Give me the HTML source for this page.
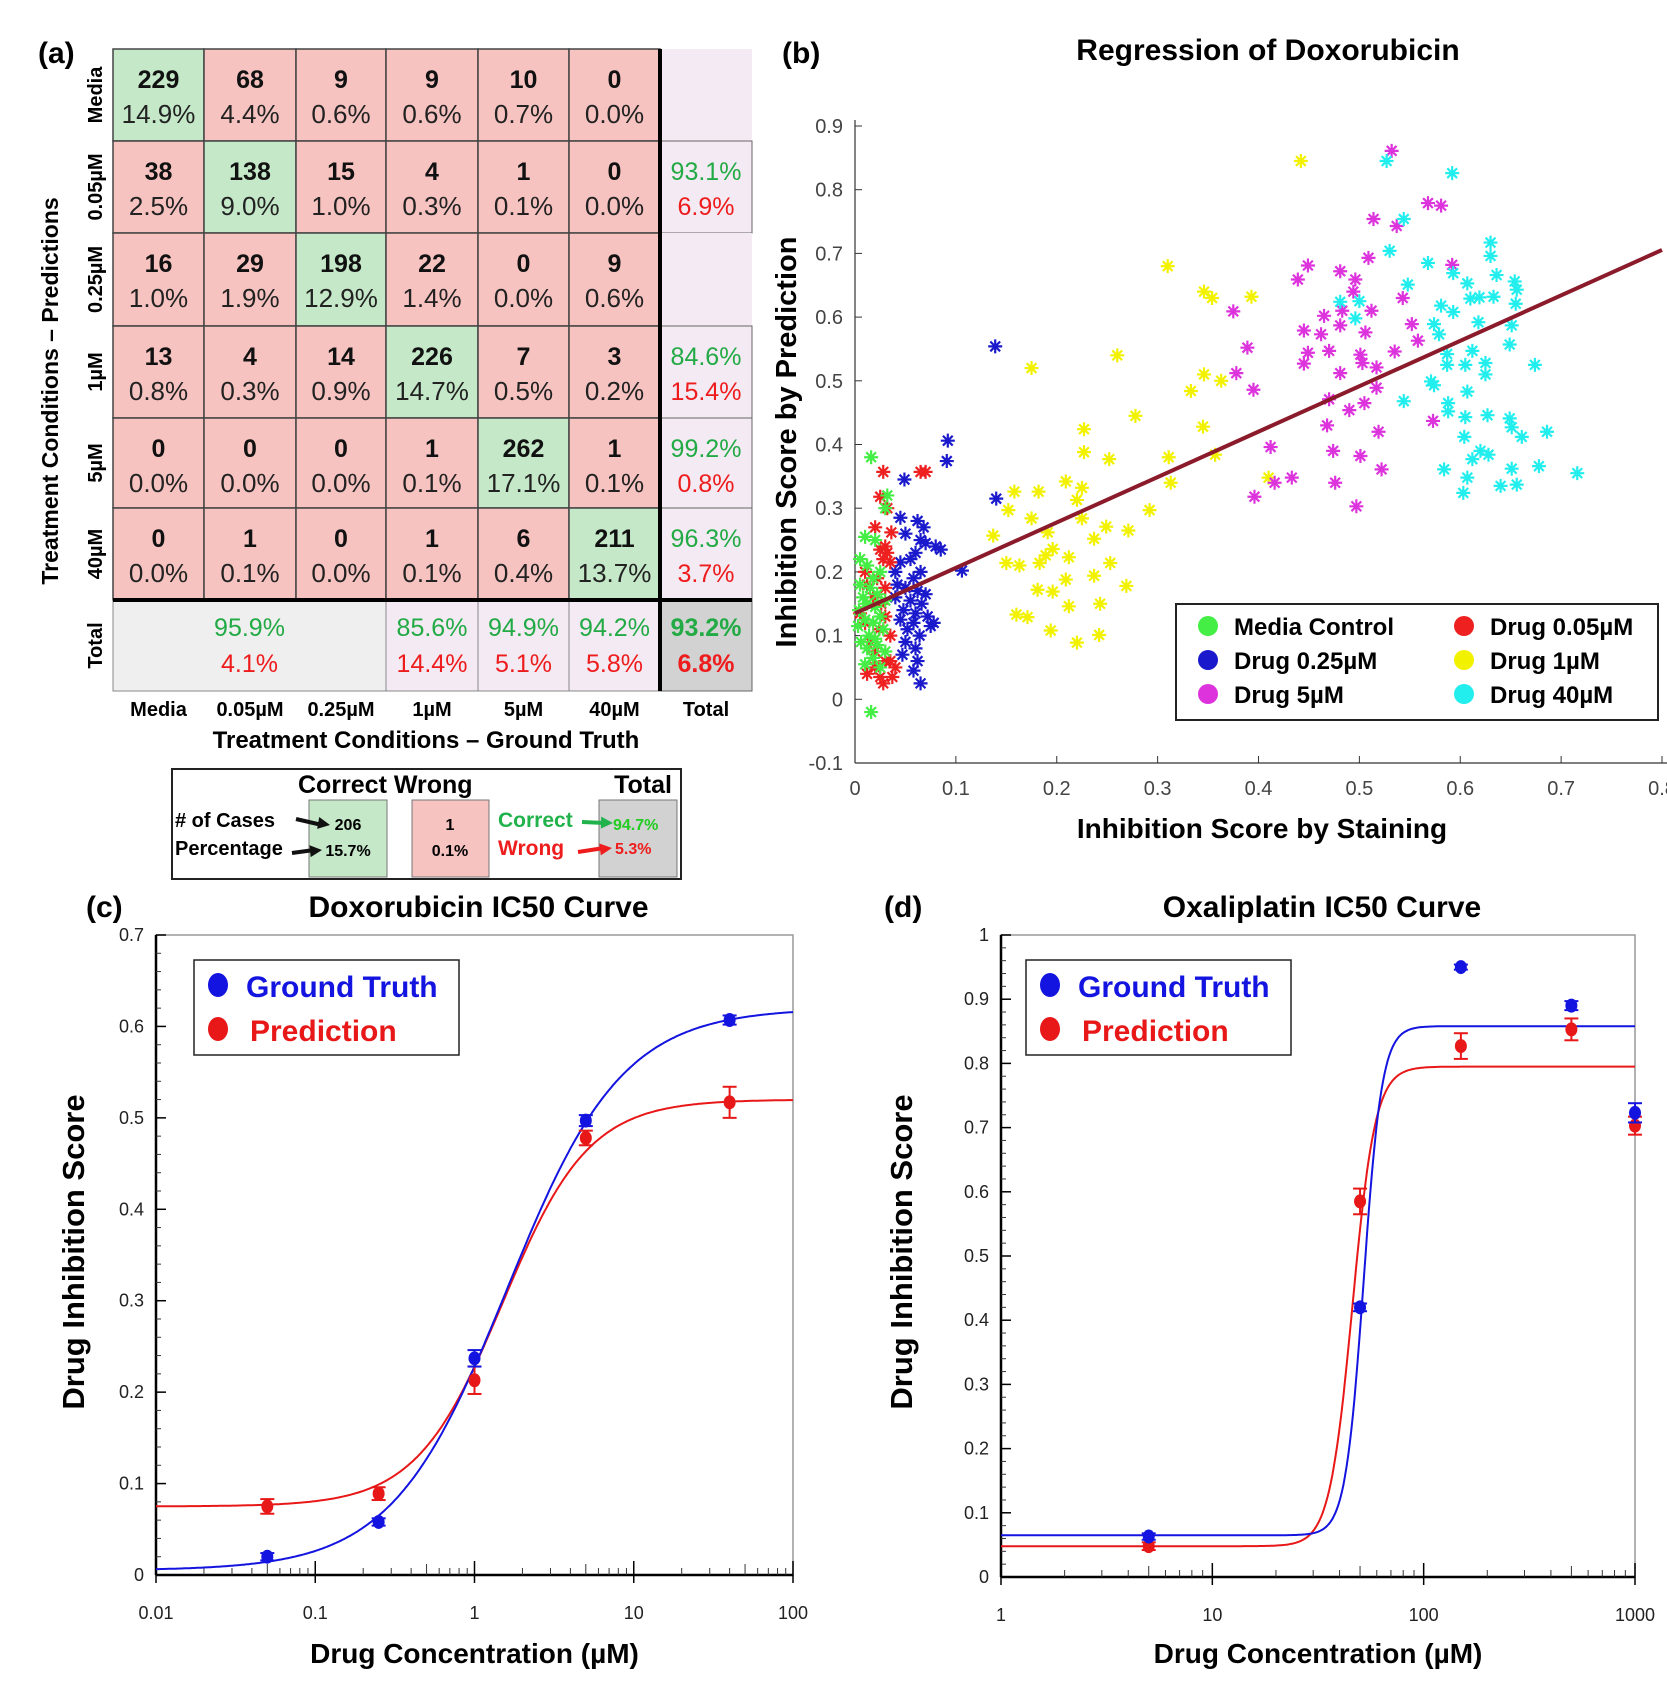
<!DOCTYPE html>
<html><head><meta charset="utf-8"><style>
html,body{margin:0;padding:0;background:#fff;}
svg{display:block;font-family:"Liberation Sans",Arial,sans-serif;}
</style></head><body>
<svg id="fig" width="1667" height="1690" viewBox="0 0 1667 1690" xmlns="http://www.w3.org/2000/svg">
<g id="pa"></g>
<g id="pb"></g>
<g id="pc"></g>
<g id="pd"></g>
</svg>
<script>
// ===== Panel (a) data =====
const cmLabels = ["Media","0.05µM","0.25µM","1µM","5µM","40µM"];
const cmCounts = [[229,68,9,9,10,0],[38,138,15,4,1,0],[16,29,198,22,0,9],[13,4,14,226,7,3],[0,0,0,1,262,1],[0,1,0,1,6,211]];
const cmPcts = [["14.9%","4.4%","0.6%","0.6%","0.7%","0.0%"],["2.5%","9.0%","1.0%","0.3%","0.1%","0.0%"],["1.0%","1.9%","12.9%","1.4%","0.0%","0.6%"],["0.8%","0.3%","0.9%","14.7%","0.5%","0.2%"],["0.0%","0.0%","0.0%","0.1%","17.1%","0.1%"],["0.0%","0.1%","0.0%","0.1%","0.4%","13.7%"]];
const rowTotals = [null,["93.1%","6.9%"],null,["84.6%","15.4%"],["99.2%","0.8%"],["96.3%","3.7%"]];
const colTotals = [["95.9%","4.1%"],null,null,["85.6%","14.4%"],["94.9%","5.1%"],["94.2%","5.8%"]];
const grandTotal = ["93.2%","6.8%"];

// ===== Panel (b) data =====
const scXTicks = [0,0.1,0.2,0.3,0.4,0.5,0.6,0.7,0.8];
const scYTicks = [-0.1,0,0.1,0.2,0.3,0.4,0.5,0.6,0.7,0.8,0.9];
const regIntercept = 0.135;
const regSlope = 0.713;
const grpNames = ["Media Control","Drug 0.05µM","Drug 0.25µM","Drug 1µM","Drug 5µM","Drug 40µM"];
const grpColors = ["#44ee44","#ee2020","#1a1acc","#f2f200","#dd33dd","#22eeee"];
const mediaX = [0.016,0.03,0.032,0.01,0.02,0.005,0.012,0.025,0.018,0.005,0.015,0.022,0.008,0.03,0.012,0.02,0.004,0.025,0.01,0.018,0.003,0.028,0.014,0.02,0.006,0.022,0.012,0.03,0.018,0.01,0.025,0.016];
const mediaY = [0.38,0.3,0.32,0.255,0.25,0.22,0.21,0.2,0.19,0.18,0.175,0.165,0.16,0.155,0.15,0.145,0.14,0.13,0.125,0.12,0.115,0.11,0.1,0.095,0.09,0.085,0.08,0.075,0.065,0.055,0.05,-0.02];
const d005X = [0.028,0.065,0.07,0.025,0.032,0.02,0.036,0.03,0.025,0.032,0.028,0.035,0.01,0.022,0.012,0.03,0.018,0.026,0.005,0.03,0.01,0.024,0.035,0.015,0.02,0.035,0.012,0.025,0.037,0.028,0.02,0.03,0.04];
const d005Y = [0.357,0.357,0.357,0.318,0.3,0.27,0.262,0.24,0.235,0.23,0.22,0.215,0.2,0.19,0.18,0.175,0.16,0.15,0.135,0.13,0.12,0.11,0.1,0.09,0.075,0.06,0.04,0.035,0.035,0.025,0.05,0.06,0.05];
const d025X = [0.049,0.045,0.062,0.068,0.05,0.065,0.07,0.08,0.085,0.06,0.055,0.045,0.065,0.058,0.042,0.05,0.062,0.07,0.04,0.055,0.066,0.048,0.06,0.072,0.045,0.058,0.075,0.052,0.064,0.05,0.06,0.047,0.062,0.058,0.065,0.106,0.092,0.091,0.139,0.14,0.078,0.04];
const d025Y = [0.345,0.285,0.28,0.27,0.26,0.25,0.245,0.24,0.235,0.23,0.22,0.215,0.2,0.19,0.18,0.175,0.17,0.165,0.16,0.155,0.15,0.14,0.135,0.13,0.125,0.12,0.115,0.11,0.1,0.09,0.08,0.07,0.06,0.045,0.025,0.202,0.406,0.374,0.554,0.315,0.12,0.2];
const d1X = [0.442,0.31,0.346,0.354,0.393,0.26,0.175,0.346,0.363,0.333,0.278,0.227,0.345,0.227,0.252,0.311,0.357,0.41,0.313,0.209,0.158,0.182,0.225,0.22,0.152,0.292,0.175,0.225,0.249,0.271,0.137,0.191,0.237,0.196,0.189,0.212,0.15,0.163,0.183,0.253,0.237,0.209,0.269,0.181,0.196,0.212,0.243,0.16,0.171,0.194,0.242,0.22];
const d1Y = [0.845,0.68,0.64,0.63,0.632,0.54,0.52,0.51,0.5,0.484,0.445,0.424,0.428,0.388,0.377,0.38,0.384,0.348,0.34,0.342,0.326,0.326,0.332,0.313,0.297,0.297,0.284,0.284,0.271,0.265,0.257,0.262,0.252,0.236,0.226,0.223,0.214,0.21,0.214,0.214,0.194,0.188,0.178,0.172,0.169,0.146,0.15,0.133,0.129,0.108,0.101,0.089];
const d5X = [0.532,0.568,0.581,0.514,0.537,0.509,0.449,0.439,0.481,0.496,0.494,0.592,0.543,0.375,0.465,0.483,0.512,0.481,0.445,0.462,0.506,0.552,0.558,0.389,0.449,0.47,0.501,0.535,0.445,0.503,0.517,0.481,0.378,0.395,0.517,0.47,0.505,0.49,0.468,0.519,0.573,0.412,0.474,0.501,0.522,0.433,0.416,0.476,0.396,0.497];
const d5Y = [0.861,0.779,0.775,0.754,0.743,0.693,0.681,0.659,0.672,0.659,0.64,0.682,0.63,0.609,0.602,0.61,0.61,0.587,0.579,0.573,0.576,0.589,0.563,0.552,0.544,0.547,0.541,0.546,0.527,0.528,0.521,0.512,0.512,0.486,0.489,0.471,0.465,0.454,0.43,0.42,0.437,0.396,0.39,0.382,0.361,0.348,0.34,0.34,0.318,0.303];
const d40X = [0.527,0.592,0.544,0.53,0.63,0.63,0.568,0.593,0.636,0.548,0.607,0.654,0.656,0.481,0.5,0.61,0.619,0.633,0.655,0.581,0.593,0.496,0.574,0.618,0.651,0.579,0.649,0.587,0.612,0.587,0.605,0.625,0.674,0.625,0.571,0.574,0.607,0.544,0.588,0.588,0.605,0.627,0.649,0.651,0.661,0.686,0.604,0.62,0.612,0.628,0.584,0.651,0.678,0.607,0.716,0.603,0.64,0.656];
const d40Y = [0.845,0.826,0.754,0.704,0.717,0.696,0.685,0.669,0.666,0.651,0.653,0.656,0.643,0.624,0.625,0.629,0.631,0.632,0.621,0.618,0.608,0.598,0.589,0.592,0.587,0.573,0.557,0.542,0.547,0.525,0.525,0.528,0.525,0.51,0.499,0.493,0.483,0.468,0.465,0.452,0.443,0.446,0.441,0.427,0.412,0.42,0.412,0.39,0.377,0.384,0.361,0.362,0.366,0.348,0.355,0.324,0.335,0.337];

// ===== Panel (c) data =====
const cConc = [0.05,0.25,1,5,40];
const cGT = [0.02,0.058,0.237,0.497,0.607];
const cGTerr = [0.004,0.004,0.009,0.006,0.005];
const cPred = [0.075,0.089,0.213,0.478,0.517];
const cPredErr = [0.008,0.007,0.015,0.008,0.017];
const cGTfit = [0.005,0.62,1.6,1.2];   // bottom, top, EC50, hill
const cPredfit = [0.075,0.52,1.5,1.6];
const cYTicks = [0,0.1,0.2,0.3,0.4,0.5,0.6,0.7];
const cXTicks = [0.01,0.1,1,10,100];

// ===== Panel (d) data =====
const dConc = [5,50,150,500,1000];
const dGT = [0.063,0.42,0.95,0.89,0.723];
const dGTerr = [0.005,0.006,0.004,0.007,0.015];
const dPred = [0.048,0.585,0.827,0.853,0.703];
const dPredErr = [0.006,0.02,0.02,0.017,0.014];
const dGTfit = [0.065,0.858,52,10];
const dPredfit = [0.048,0.795,46,8];
const dYTicks = [0,0.1,0.2,0.3,0.4,0.5,0.6,0.7,0.8,0.9,1];
const dXTicks = [1,10,100,1000];

const NS = "http://www.w3.org/2000/svg";
function mk(parent, tag, attrs, text){
  const e = document.createElementNS(NS, tag);
  for (const k in attrs) e.setAttribute(k, attrs[k]);
  if (text !== undefined) e.textContent = text;
  parent.appendChild(e);
  return e;
}

// ================= Panel (a) =================
(function(){
  const g = document.getElementById('pa');
  const colX = [113,204,296,386,478,569,660,752];
  const rowY = [49,141,233,326,418,508,600,691];
  const GREEN="#c4e8c8", PINK="#f6c3c0", LAV="#f3eaf3", LGRAY="#efefef", DGRAY="#d2d2d2";
  let t = mk(g,'text',{x:38,y:63,'font-size':30,'font-weight':'bold'},'(a)');
   
  for (let r=0;r<6;r++){
    for (let c=0;c<6;c++){
      const cell = mk(g,'g',{});
      
      
      mk(cell,'rect',{x:colX[c],y:rowY[r],width:colX[c+1]-colX[c],height:rowY[r+1]-rowY[r],fill:r===c?GREEN:PINK,stroke:'#444','stroke-width':1.5});
      const cx=(colX[c]+colX[c+1])/2;
      mk(cell,'text',{x:cx,y:rowY[r]+39,'text-anchor':'middle','font-size':25,'font-weight':'bold',fill:'#111'},String(cmCounts[r][c]));
      mk(cell,'text',{x:cx,y:rowY[r]+74,'text-anchor':'middle','font-size':26,fill:'#222'},cmPcts[r][c]);
    }
    const rc = mk(g,'g',{});
    
    
    mk(rc,'rect',{x:colX[6],y:rowY[r],width:colX[7]-colX[6],height:rowY[r+1]-rowY[r],fill:LAV,stroke:rowTotals[r]?'#666':'none','stroke-width':1});
    if (rowTotals[r]){
      const cx=(colX[6]+colX[7])/2;
      mk(rc,'text',{x:cx,y:rowY[r]+39,'text-anchor':'middle','font-size':25,fill:'#22aa44'},rowTotals[r][0]);
      mk(rc,'text',{x:cx,y:rowY[r]+74,'text-anchor':'middle','font-size':25,fill:'#ee1c1c'},rowTotals[r][1]);
    }
  }
  const yb=rowY[6], yb2=rowY[7];
  mk(g,'rect',{x:colX[0],y:yb,width:colX[3]-colX[0],height:yb2-yb,fill:LGRAY,stroke:'#888'});
  for (let c=3;c<6;c++) mk(g,'rect',{x:colX[c],y:yb,width:colX[c+1]-colX[c],height:yb2-yb,fill:LAV,stroke:'#888'});
  for (let c=0;c<6;c++){
    if (!colTotals[c]) continue;
    const cx = c===0 ? (colX[0]+colX[3])/2 : (colX[c]+colX[c+1])/2;
    const ct = mk(g,'g',{});
    
    
    mk(ct,'text',{x:cx,y:yb+36,'text-anchor':'middle','font-size':25,fill:'#22aa44'},colTotals[c][0]);
    mk(ct,'text',{x:cx,y:yb+72,'text-anchor':'middle','font-size':25,fill:'#ee1c1c'},colTotals[c][1]);
  }
  const gt = mk(g,'g',{});
   
  mk(gt,'rect',{x:colX[6],y:yb,width:colX[7]-colX[6],height:yb2-yb,fill:DGRAY,stroke:'#666'});
  mk(gt,'text',{x:(colX[6]+colX[7])/2,y:yb+36,'text-anchor':'middle','font-size':25,'font-weight':'bold',fill:'#22aa44'},grandTotal[0]);
  mk(gt,'text',{x:(colX[6]+colX[7])/2,y:yb+72,'text-anchor':'middle','font-size':25,'font-weight':'bold',fill:'#ee1c1c'},grandTotal[1]);
  mk(g,'line',{x1:colX[6],y1:rowY[0],x2:colX[6],y2:rowY[7],stroke:'#000','stroke-width':4});
  mk(g,'line',{x1:colX[0],y1:rowY[6],x2:colX[7],y2:rowY[6],stroke:'#000','stroke-width':4});
  for (let i=0;i<6;i++){
    const cy=(rowY[i]+rowY[i+1])/2;
    const rl = mk(g,'text',{x:0,y:0,transform:`translate(102,${cy}) rotate(-90)`,'text-anchor':'middle','font-size':20,'font-weight':'bold'},cmLabels[i]);
     
    const cl = mk(g,'text',{x:(colX[i]+colX[i+1])/2,y:716,'text-anchor':'middle','font-size':20,'font-weight':'bold'},cmLabels[i]);
     
  }
  mk(g,'text',{x:0,y:0,transform:`translate(102,${(rowY[6]+rowY[7])/2}) rotate(-90)`,'text-anchor':'middle','font-size':20,'font-weight':'bold'},'Total');
  mk(g,'text',{x:(colX[6]+colX[7])/2,y:716,'text-anchor':'middle','font-size':20,'font-weight':'bold'},'Total');
  const yt = mk(g,'text',{x:0,y:0,transform:'translate(58,391) rotate(-90)','text-anchor':'middle','font-size':23,'font-weight':'bold'},'Treatment Conditions – Predictions');
   
  const xt = mk(g,'text',{x:426,y:748,'text-anchor':'middle','font-size':24,'font-weight':'bold'},'Treatment Conditions – Ground Truth');
   
  const k = mk(g,'g',{});
   
  mk(k,'rect',{x:172,y:769,width:509,height:110,fill:'#fff',stroke:'#222','stroke-width':2});
  mk(k,'rect',{x:309,y:800,width:78,height:77,fill:GREEN,stroke:'#777'});
  mk(k,'rect',{x:412,y:800,width:77,height:77,fill:PINK,stroke:'#777'});
  mk(k,'rect',{x:599,y:800,width:78,height:77,fill:DGRAY,stroke:'#777'});
  mk(k,'text',{x:298,y:793,'font-size':25,'font-weight':'bold'},'Correct Wrong');
  mk(k,'text',{x:672,y:793,'text-anchor':'end','font-size':25,'font-weight':'bold'},'Total');
  mk(k,'text',{x:175,y:827,'font-size':20,'font-weight':'bold'},'# of Cases');
  mk(k,'text',{x:175,y:855,'font-size':20,'font-weight':'bold'},'Percentage');
  mk(k,'text',{x:348,y:830,'text-anchor':'middle','font-size':16,'font-weight':'bold'},'206');
  mk(k,'text',{x:348,y:856,'text-anchor':'middle','font-size':16,'font-weight':'bold'},'15.7%');
  mk(k,'text',{x:450,y:830,'text-anchor':'middle','font-size':16,'font-weight':'bold'},'1');
  mk(k,'text',{x:450,y:856,'text-anchor':'middle','font-size':16,'font-weight':'bold'},'0.1%');
  mk(k,'text',{x:498,y:827,'font-size':21,'font-weight':'bold',fill:'#22b24c'},'Correct');
  mk(k,'text',{x:498,y:855,'font-size':21,'font-weight':'bold',fill:'#ee1c1c'},'Wrong');
  mk(k,'text',{x:613,y:830,'font-size':16,'font-weight':'bold',fill:'#22cc22'},'94.7%');
  mk(k,'text',{x:615,y:854,'font-size':16,'font-weight':'bold',fill:'#ee1c1c'},'5.3%');
  function arrow(x1,y1,x2,y2,col){
    mk(k,'line',{x1:x1,y1:y1,x2:x2-8,y2:y2,stroke:col,'stroke-width':4});
    const a=Math.atan2(y2-y1,x2-x1);
    const p=[[x2,y2],[x2-12*Math.cos(a)+6*Math.sin(a),y2-12*Math.sin(a)-6*Math.cos(a)],[x2-12*Math.cos(a)-6*Math.sin(a),y2-12*Math.sin(a)+6*Math.cos(a)]];
    mk(k,'polygon',{points:p.map(q=>q.join(',')).join(' '),fill:col});
  }
  arrow(296,819,330,825,'#111'); arrow(292,853,322,850,'#111');
  arrow(582,822,613,823,'#22b24c'); arrow(578,852,612,848,'#ee1c1c');
})();

// ================= Panel (b) =================
(function(){
  const g = document.getElementById('pb');
  const X0=855, XS=1008.75, Y0=699.3, YS=637;
  const sx = v => X0 + v*XS, sy = v => Y0 - v*YS;
  let t = mk(g,'text',{x:782,y:63,'font-size':30,'font-weight':'bold'},'(b)');
   
  t = mk(g,'text',{x:1268,y:60,'text-anchor':'middle','font-size':30,'font-weight':'bold'},'Regression of Doxorubicin');
   
  const ax = mk(g,'g',{});
   
  mk(ax,'line',{x1:X0,y1:sy(0.9)-6,x2:X0,y2:sy(-0.1),stroke:'#333','stroke-width':1.2});
  mk(ax,'line',{x1:X0,y1:sy(-0.1),x2:1667,y2:sy(-0.1),stroke:'#333','stroke-width':1.2});
  scXTicks.forEach(v=>{
    mk(ax,'line',{x1:sx(v),y1:sy(-0.1),x2:sx(v),y2:sy(-0.1)-7,stroke:'#333'});
    const l = mk(ax,'text',{x:sx(v),y:795,'text-anchor':'middle','font-size':20,fill:'#444'},String(v));
     
  });
  scYTicks.forEach(v=>{
    mk(ax,'line',{x1:X0,y1:sy(v),x2:X0+7,y2:sy(v),stroke:'#333'});
    const l = mk(ax,'text',{x:843,y:sy(v)+7,'text-anchor':'end','font-size':20,fill:'#444'},String(v));
     
  });
  t = mk(g,'text',{x:1262,y:838,'text-anchor':'middle','font-size':28,'font-weight':'bold'},'Inhibition Score by Staining');
   
  t = mk(g,'text',{x:0,y:0,transform:'translate(796,442) rotate(-90)','text-anchor':'middle','font-size':29,'font-weight':'bold'},'Inhibition Score by Prediction');
   
  const groups = [[mediaX,mediaY],[d005X,d005Y],[d025X,d025Y],[d1X,d1Y],[d5X,d5Y],[d40X,d40Y]];
  const order=[3,4,5,2,1,0];
  order.forEach(gi=>{
    const sg = mk(g,'g',{stroke:grpColors[gi],'stroke-width':2.2});
    
    
    const xs=groups[gi][0], ys=groups[gi][1];
    for (let i=0;i<xs.length;i++){
      const px=sx(xs[i]), py=sy(ys[i]), r=7;
      const m = mk(sg,'path',{d:`M${px-r},${py}H${px+r}M${px},${py-r}V${py+r}M${px-r*0.7},${py-r*0.7}L${px+r*0.7},${py+r*0.7}M${px-r*0.7},${py+r*0.7}L${px+r*0.7},${py-r*0.7}`});
       
    }
  });
  const rl = mk(g,'line',{x1:sx(0),y1:sy(regIntercept),x2:sx(0.8),y2:sy(regIntercept+regSlope*0.8),stroke:'#8b1a2a','stroke-width':4});
   
  const lg = mk(g,'g',{});
   
  mk(lg,'rect',{x:1176,y:604,width:482,height:116,fill:'#fff',stroke:'#222','stroke-width':2});
  for (let i=0;i<6;i++){
    const col=i%2, row=Math.floor(i/2);
    const lx = col===0?1208:1464, ly = 626+row*34;
    const e = mk(lg,'g',{});
     
    mk(e,'circle',{cx:lx,cy:ly,r:10,fill:grpColors[i]});
    mk(e,'text',{x:lx+26,y:ly+9,'font-size':24,'font-weight':'bold'},grpNames[i]);
  }
})();

// ================= Panels (c) & (d) =================
function ic50Panel(gid, cfg){
  const g = document.getElementById(gid);
  const {L,R,T,B,xmin,xmax,ymax} = cfg;
  const lx = v => L + (Math.log10(v)-Math.log10(xmin))/(Math.log10(xmax)-Math.log10(xmin))*(R-L);
  const ly = v => B - v/ymax*(B-T);
  let t = mk(g,'text',{x:cfg.labX,y:917,'font-size':30,'font-weight':'bold'},cfg.panel);
   
  t = mk(g,'text',{x:(L+R)/2+4,y:917,'text-anchor':'middle','font-size':30,'font-weight':'bold'},cfg.title);
   
  const ax = mk(g,'g',{});
   
  mk(ax,'rect',{x:L,y:T,width:R-L,height:B-T,fill:'none',stroke:'#999','stroke-width':1.5});
  mk(ax,'line',{x1:L,y1:T,x2:L,y2:B,stroke:'#000','stroke-width':2.5});
  mk(ax,'line',{x1:L,y1:B,x2:R,y2:B,stroke:'#000','stroke-width':2.5});
  const step = cfg.yTicks[1]-cfg.yTicks[0];
  for (let v=0; v<=ymax+1e-9; v+=step/5){
    mk(ax,'line',{x1:L,y1:ly(v),x2:L+5,y2:ly(v),stroke:'#333','stroke-width':1});
  }
  cfg.yTicks.forEach(v=>{
    mk(ax,'line',{x1:L,y1:ly(v),x2:L+10,y2:ly(v),stroke:'#000','stroke-width':1.5});
    const l = mk(ax,'text',{x:L-12,y:ly(v)+6,'text-anchor':'end','font-size':18,fill:'#222'},String(v));
     
  });
  for (let d=Math.log10(xmin); d<Math.log10(xmax); d++){
    for (let m=2;m<=9;m++){
      const x = lx(Math.pow(10,d)*m);
      mk(ax,'line',{x1:x,y1:B,x2:x,y2:B-(m===5?11:7),stroke:'#333','stroke-width':1});
    }
  }
  cfg.xTicks.forEach(v=>{
    mk(ax,'line',{x1:lx(v),y1:B,x2:lx(v),y2:B-14,stroke:'#000','stroke-width':1.5});
    mk(ax,'line',{x1:lx(v),y1:B,x2:lx(v),y2:B+8,stroke:'#000','stroke-width':1.5});
    const l = mk(ax,'text',{x:lx(v),y:B+44,'text-anchor':'middle','font-size':18,fill:'#222'},String(v));
     
  });
  t = mk(g,'text',{x:(L+R)/2,y:1663,'text-anchor':'middle','font-size':28,'font-weight':'bold'},'Drug Concentration (µM)');
   
  t = mk(g,'text',{x:0,y:0,transform:`translate(${cfg.ytX},1252) rotate(-90)`,'text-anchor':'middle','font-size':31,'font-weight':'bold'},'Drug Inhibition Score');
   
  function fitCurve(p,col,name){
    const pts=[];
    const a=Math.log10(xmin), b=Math.log10(xmax);
    for (let i=0;i<=400;i++){
      const x=Math.pow(10,a+(b-a)*i/400);
      const y=p[0]+(p[1]-p[0])/(1+Math.pow(p[2]/x,p[3]));
      pts.push(lx(x).toFixed(1)+','+ly(y).toFixed(1));
    }
    const c = mk(g,'polyline',{points:pts.join(' '),fill:'none',stroke:col,'stroke-width':2});
     
  }
  fitCurve(cfg.predFit,'#e81818','prediction-fit-curve');
  fitCurve(cfg.gtFit,'#1414e0','ground-truth-fit-curve');
  function pts(vals,errs,col,name){
    const sg = mk(g,'g',{});
     
    for (let i=0;i<cfg.conc.length;i++){
      const x=lx(cfg.conc[i]), y=ly(vals[i]), e1=ly(vals[i]+errs[i]), e2=ly(vals[i]-errs[i]);
      const pg = mk(sg,'g',{stroke:col,'stroke-width':2});
       
      mk(pg,'line',{x1:x,y1:e1,x2:x,y2:e2});
      mk(pg,'line',{x1:x-7,y1:e1,x2:x+7,y2:e1});
      mk(pg,'line',{x1:x-7,y1:e2,x2:x+7,y2:e2});
      mk(pg,'ellipse',{cx:x,cy:y,rx:6,ry:7,fill:col,stroke:'none'});
    }
  }
  pts(cfg.pred,cfg.predErr,'#e81818','prediction-points');
  pts(cfg.gt,cfg.gtErr,'#1414e0','ground-truth-points');
  const lg = mk(g,'g',{});
   
  mk(lg,'rect',{x:cfg.legX,y:960,width:265,height:95,fill:'#fff',stroke:'#222','stroke-width':1.5});
  const e1 = mk(lg,'g',{});  
  mk(e1,'ellipse',{cx:cfg.legX+24,cy:985,rx:10,ry:12,fill:'#1414e0'});
  mk(e1,'text',{x:cfg.legX+52,y:997,'font-size':30,'font-weight':'bold',fill:'#1414e0'},'Ground Truth');
  const e2 = mk(lg,'g',{});  
  mk(e2,'ellipse',{cx:cfg.legX+24,cy:1029,rx:10,ry:12,fill:'#e81818'});
  mk(e2,'text',{x:cfg.legX+56,y:1041,'font-size':30,'font-weight':'bold',fill:'#e81818'},'Prediction');
}
ic50Panel('pc',{L:156,R:793,T:935,B:1575,xmin:0.01,xmax:100,ymax:0.7,yTicks:cYTicks,xTicks:cXTicks,
  conc:cConc,gt:cGT,gtErr:cGTerr,pred:cPred,predErr:cPredErr,gtFit:cGTfit,predFit:cPredfit,
  panel:'(c)',labX:86,title:'Doxorubicin IC50 Curve',ytX:84,legX:194});
ic50Panel('pd',{L:1001,R:1635,T:935,B:1577,xmin:1,xmax:1000,ymax:1,yTicks:dYTicks,xTicks:dXTicks,
  conc:dConc,gt:dGT,gtErr:dGTerr,pred:dPred,predErr:dPredErr,gtFit:dGTfit,predFit:dPredfit,
  panel:'(d)',labX:884,title:'Oxaliplatin IC50 Curve',ytX:912,legX:1026});
</script>
</body></html>
